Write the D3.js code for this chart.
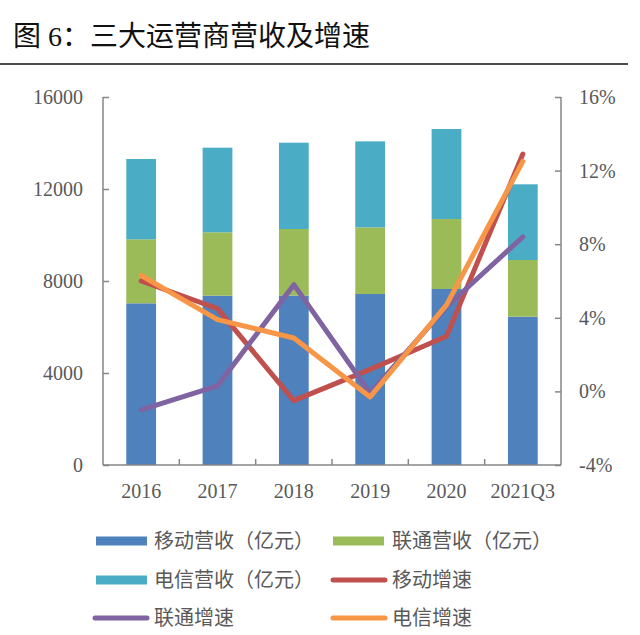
<!DOCTYPE html>
<html><head><meta charset="utf-8">
<script src="https://cdn.jsdelivr.net/npm/d3@7"></script>
<style>body{margin:0;background:#fff;}svg{display:block;}</style>
</head><body>
<script>
const categories = ["2016","2017","2018","2019","2020","2021Q3"];
const mobileRev = [7030, 7361, 7368, 7435, 7652, 6448];
const unicomRev = [2783, 2756, 2893, 2898, 3044, 2465];
const telecomRev = [3491, 3679, 3752, 3739, 3913, 3291];
const mobileGrowth = [6.0, 4.5, -0.5, 1.2, 3.0, 12.9];
const unicomGrowth = [-1.0, 0.3, 5.8, -0.1, 4.6, 8.4];
const telecomGrowth = [6.3, 3.9, 2.9, -0.3, 4.7, 12.5];
const leftTicks = [0, 4000, 8000, 12000, 16000];
const rightTicks = [-4, 0, 4, 8, 12, 16];

const W = 640, H = 635;
const svg = d3.select("body").append("svg").attr("width", W).attr("height", H);
const serif = "'Liberation Serif','Times New Roman',serif";
const cjk = "'Noto Sans CJK SC','Noto Sans',sans-serif";
const txt = "#595959", axisCol = "#868686";

// title
svg.append("text").attr("x", 13).attr("y", 46)
  .style("font-family", "'Liberation Serif','Noto Sans CJK SC',serif")
  .style("font-size", "28px").style("fill", "#111")
  .text("图 6：三大运营商营收及增速");
svg.append("line").attr("x1", 0).attr("x2", 628).attr("y1", 64).attr("y2", 64)
  .attr("stroke", "#111").attr("stroke-width", 1.5);

const x0 = 103, x1 = 561, yTop = 97, yBot = 465;
const x = d3.scaleBand().domain(categories).range([x0, x1]).paddingInner(0.61).paddingOuter(0.305);
const xc = d3.scaleBand().domain(categories).range([x0, x1]);
const yL = d3.scaleLinear().domain([0, 16000]).range([yBot, yTop]);
const yR = d3.scaleLinear().domain([-4, 16]).range([yBot, yTop]);

// stacked bars
const rows = categories.map((c, i) => ({cat: c, m: mobileRev[i], u: unicomRev[i], t: telecomRev[i]}));
const stack = d3.stack().keys(["m", "u", "t"])(rows);
const barColors = {m: "#4F81BD", u: "#9BBB59", t: "#4BACC6"};
stack.forEach(layer => {
  svg.append("g").selectAll("rect").data(layer).join("rect")
    .attr("x", d => x(d.data.cat)).attr("width", x.bandwidth())
    .attr("y", d => yL(d[1])).attr("height", d => yL(d[0]) - yL(d[1]))
    .attr("fill", barColors[layer.key]);
});

// axes
const gL = svg.append("g").attr("transform", `translate(${x0},0)`)
  .call(d3.axisLeft(yL).tickValues(leftTicks).tickSize(-6).tickPadding(20).tickFormat(d3.format("d")));
const gR = svg.append("g").attr("transform", `translate(${x1},0)`)
  .call(d3.axisRight(yR).tickValues(rightTicks).tickSize(-6).tickPadding(18).tickFormat(d => d + "%"));
const gB = svg.append("g").attr("transform", `translate(0,${yBot})`)
  .call(d3.axisBottom(xc).tickSize(0).tickPadding(19));
// category boundary ticks
svg.append("g").selectAll("line").data(categories.slice(1)).join("line")
  .attr("x1", d => xc(d)).attr("x2", d => xc(d)).attr("y1", yBot).attr("y2", yBot - 6)
  .attr("stroke", axisCol).attr("stroke-width", 1.5);
[gL, gR, gB].forEach(g => {
  g.selectAll("path").attr("stroke", axisCol).attr("stroke-width", 1.5);
  g.selectAll(".tick line").attr("stroke", axisCol).attr("stroke-width", 1.5);
  g.selectAll("text").style("font-family", serif).style("font-size", "20px").attr("fill", txt);
});
gL.select(".domain").attr("d", `M0,${yTop}H0V${yBot}`);
gR.select(".domain").attr("d", `M0,${yTop}H0V${yBot}`);
gB.select(".domain").attr("d", `M${x0},0H${x1}`);

// lines
const lineGen = d3.line().x((d, i) => xc(categories[i]) + xc.bandwidth() / 2).y(d => yR(d));
const lines = [
  {vals: mobileGrowth, color: "#C0504D"},
  {vals: unicomGrowth, color: "#8064A2"},
  {vals: telecomGrowth, color: "#F79646"}
];
lines.forEach(l => {
  svg.append("path").attr("d", lineGen(l.vals)).attr("fill", "none")
    .attr("stroke", l.color).attr("stroke-width", 5)
    .attr("stroke-linejoin", "round").attr("stroke-linecap", "round");
});

// legend
const legend = [
  {label: "移动营收（亿元）", color: "#4F81BD", type: "rect", sx: 96, tx: 154, y: 541},
  {label: "联通营收（亿元）", color: "#9BBB59", type: "rect", sx: 333, tx: 392, y: 541},
  {label: "电信营收（亿元）", color: "#4BACC6", type: "rect", sx: 96, tx: 154, y: 580},
  {label: "移动增速", color: "#C0504D", type: "line", sx: 333, tx: 392, y: 580},
  {label: "联通增速", color: "#8064A2", type: "line", sx: 95, tx: 154, y: 618},
  {label: "电信增速", color: "#F79646", type: "line", sx: 333, tx: 392, y: 618}
];
legend.forEach(l => {
  if (l.type === "rect") {
    svg.append("rect").attr("x", l.sx).attr("y", l.y - 4.5).attr("width", 51).attr("height", 9).attr("fill", l.color);
  } else {
    svg.append("line").attr("x1", l.sx).attr("x2", l.sx + 52).attr("y1", l.y).attr("y2", l.y)
      .attr("stroke", l.color).attr("stroke-width", 5).attr("stroke-linecap", "round");
  }
  svg.append("text").attr("x", l.tx).attr("y", l.y).attr("dy", "0.36em")
    .style("font-family", cjk).style("font-size", "20px").attr("fill", txt).text(l.label);
});
</script>
</body></html>
